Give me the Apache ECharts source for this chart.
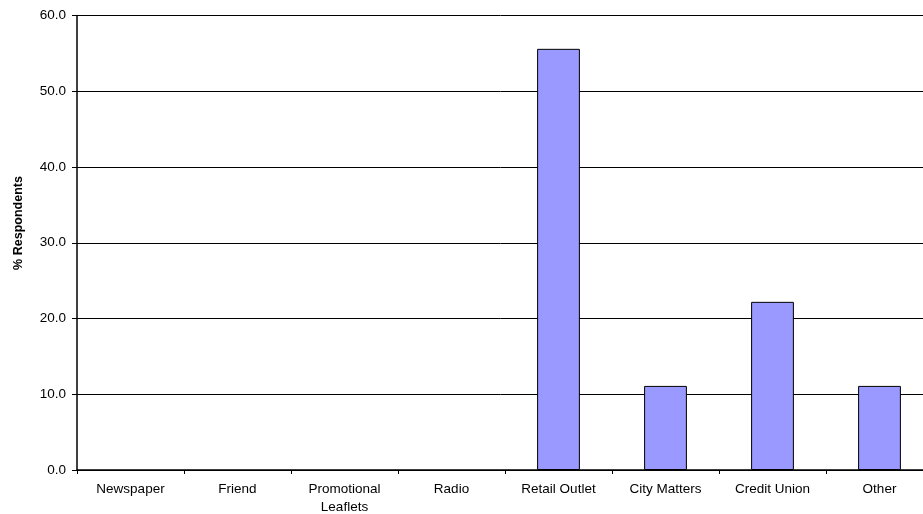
<!DOCTYPE html>
<html>
<head>
<meta charset="utf-8">
<script src="https://cdn.jsdelivr.net/npm/echarts@6/dist/echarts.min.js"></script>
<style>
  html, body { margin: 0; padding: 0; background: #fff; }
  #chart { width: 923px; height: 514px; }
</style>
</head>
<body>
<div id="chart"></div>
<script>
// Where respondents heard about the service
const categories = ['Newspaper', 'Friend', 'Promotional\nLeaflets', 'Radio', 'Retail Outlet', 'City Matters', 'Credit Union', 'Other'];
const respondents = [0, 0, 0, 0, 55.6, 11.1, 22.2, 11.1];
const yMin = 0;
const yMax = 60;
const yStep = 10;
const yTitle = '% Respondents';

const chart = echarts.init(document.getElementById('chart'), null, { renderer: 'canvas' });
const font = 'Liberation Sans, Arial, sans-serif';

// Empty categories get no outline so no stray stroke sits on the axis
const barData = respondents.map(v => ({
  value: v,
  itemStyle: v === 0 ? { borderWidth: 0 } : {}
}));

chart.setOption({
  animation: false,
  backgroundColor: '#ffffff',
  // the plot runs slightly past the right edge of the canvas
  grid: { left: 77, top: 15.5, width: 856, bottom: 44, outerBoundsMode: 'none', containLabel: false },
  xAxis: {
    type: 'category',
    data: categories,
    axisLine: { lineStyle: { color: '#000', width: 1.5 } },
    axisTick: { show: true, alignWithLabel: false, length: 4, lineStyle: { color: '#000' } },
    axisLabel: { color: '#000', fontFamily: font, fontSize: 13.5, margin: 10, lineHeight: 18, interval: 0 },
    splitLine: { show: false }
  },
  yAxis: {
    type: 'value',
    min: yMin,
    max: yMax,
    interval: yStep,
    axisLine: { show: true, lineStyle: { color: '#000', width: 1.5 } },
    axisTick: { show: true, length: 5, lineStyle: { color: '#000' } },
    axisLabel: {
      color: '#000', fontFamily: font, fontSize: 13.5, margin: 11,
      formatter: v => v.toFixed(1)
    },
    splitLine: { show: true, lineStyle: { color: '#000', width: 1 } }
  },
  graphic: [{
    type: 'text',
    x: 18.5,
    y: 223,
    rotation: Math.PI / 2,
    style: {
      text: yTitle,
      fill: '#000',
      font: 'bold 12.5px Liberation Sans, Arial, sans-serif',
      textAlign: 'center',
      textVerticalAlign: 'middle'
    }
  }],
  series: [{
    type: 'bar',
    data: barData,
    barWidth: '40%',
    itemStyle: { color: '#9999ff', borderColor: '#000', borderWidth: 1 }
  }]
});
</script>
</body>
</html>
